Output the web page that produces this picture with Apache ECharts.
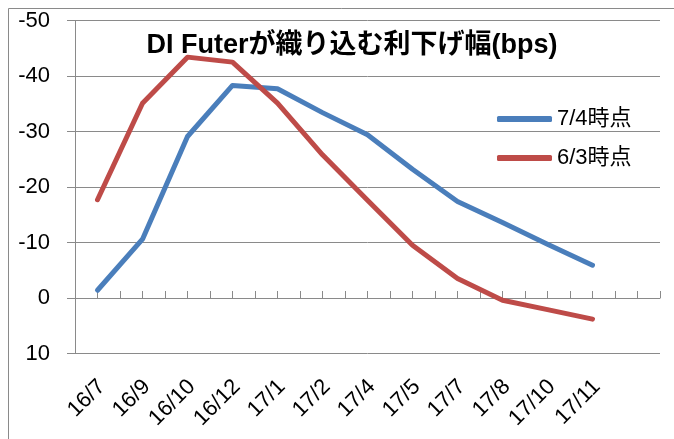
<!DOCTYPE html>
<html>
<head>
<meta charset="utf-8">
<script src="https://cdn.jsdelivr.net/npm/echarts@6/dist/echarts.min.js"></script>
<style>
html,body{margin:0;padding:0;background:#fff;}
#chart{width:674px;height:439px;}
</style>
</head>
<body>
<div id="chart"></div>
<script>
var categories = ['16/7','16/9','16/10','16/12','17/1','17/2','17/4','17/5','17/7','17/8','17/10','17/11'];
var seriesNames = ['7/4時点', '6/3時点'];
var values74 = [-1.4, -10.6, -29.1, -38.3, -37.7, -33.4, -29.4, -23.2, -17.4, -13.6, -9.7, -5.9];
var values63 = [-17.7, -35.1, -43.4, -42.5, -35.1, -25.8, -17.6, -9.5, -3.5, 0.4, 2.1, 3.8];
var titleText = 'DI Futerが織り込む利下げ幅(bps)';

var FONT = '"Liberation Sans", Arial, "Noto Sans CJK JP", sans-serif';
var GRAY = '#8a8a8a';

var chart = echarts.init(document.getElementById('chart'), null, {renderer: 'canvas'});
var option = {
  backgroundColor: '#fff',
  animation: false,
  title: {
    text: titleText,
    left: 352,
    textAlign: 'center',
    top: 31,
    padding: 0,
    textStyle: {fontFamily: FONT, fontSize: 27, fontWeight: 'bold', color: '#000', lineHeight: 29}
  },
  legend: {
    orient: 'vertical',
    left: 497,
    top: 108,
    padding: 0,
    itemWidth: 55,
    itemHeight: 6,
    itemGap: 17,
    icon: 'roundRect',
    textStyle: {fontFamily: FONT, fontSize: 22, color: '#000', lineHeight: 22},
    data: seriesNames
  },
  graphic: [{
    type: 'rect',
    shape: {x: 8.5, y: 8.5, width: 800, height: 600},
    style: {fill: 'none', stroke: GRAY, lineWidth: 1},
    silent: true, z: -1
  }],
  grid: {left: 75, right: 14, top: 20.5, bottom: 85.5, containLabel: false},
  xAxis: [{
    type: 'value',
    min: 0, max: 13, interval: 0.5,
    axisLine: {show: true, onZero: true, lineStyle: {color: GRAY, width: 1}},
    axisTick: {show: true, inside: true, length: 7, lineStyle: {color: GRAY}},
    axisLabel: {show: false},
    splitLine: {show: false}
  }, {
    type: 'category',
    position: 'bottom',
    data: categories.concat(['']),
    boundaryGap: true,
    axisLine: {show: false, onZero: false},
    axisTick: {show: false},
    splitLine: {show: false},
    axisLabel: {interval: 0, rotate: 45, margin: 34, padding: [0, -6, 0, 0], fontFamily: FONT, fontSize: 22, color: '#000'}
  }],
  yAxis: {
    type: 'value',
    inverse: true,
    min: -50, max: 10, interval: 10,
    axisLine: {show: true, onZero: false, lineStyle: {color: GRAY, width: 1}},
    axisTick: {show: true, length: 8, lineStyle: {color: GRAY}},
    axisLabel: {margin: 25, fontFamily: FONT, fontSize: 22, color: '#000'},
    splitLine: {show: true, lineStyle: {color: GRAY, width: 1}}
  },
  series: [{
    name: seriesNames[0],
    type: 'line',
    xAxisIndex: 1,
    data: values74,
    symbol: 'none',
    color: '#4A7EBB',
    lineStyle: {width: 5, color: '#4A7EBB', cap: 'round', join: 'round'}
  }, {
    name: seriesNames[1],
    type: 'line',
    xAxisIndex: 1,
    data: values63,
    symbol: 'none',
    color: '#BE4B48',
    lineStyle: {width: 5, color: '#BE4B48', cap: 'round', join: 'round'}
  }]
};
chart.setOption(option);
</script>
</body>
</html>
